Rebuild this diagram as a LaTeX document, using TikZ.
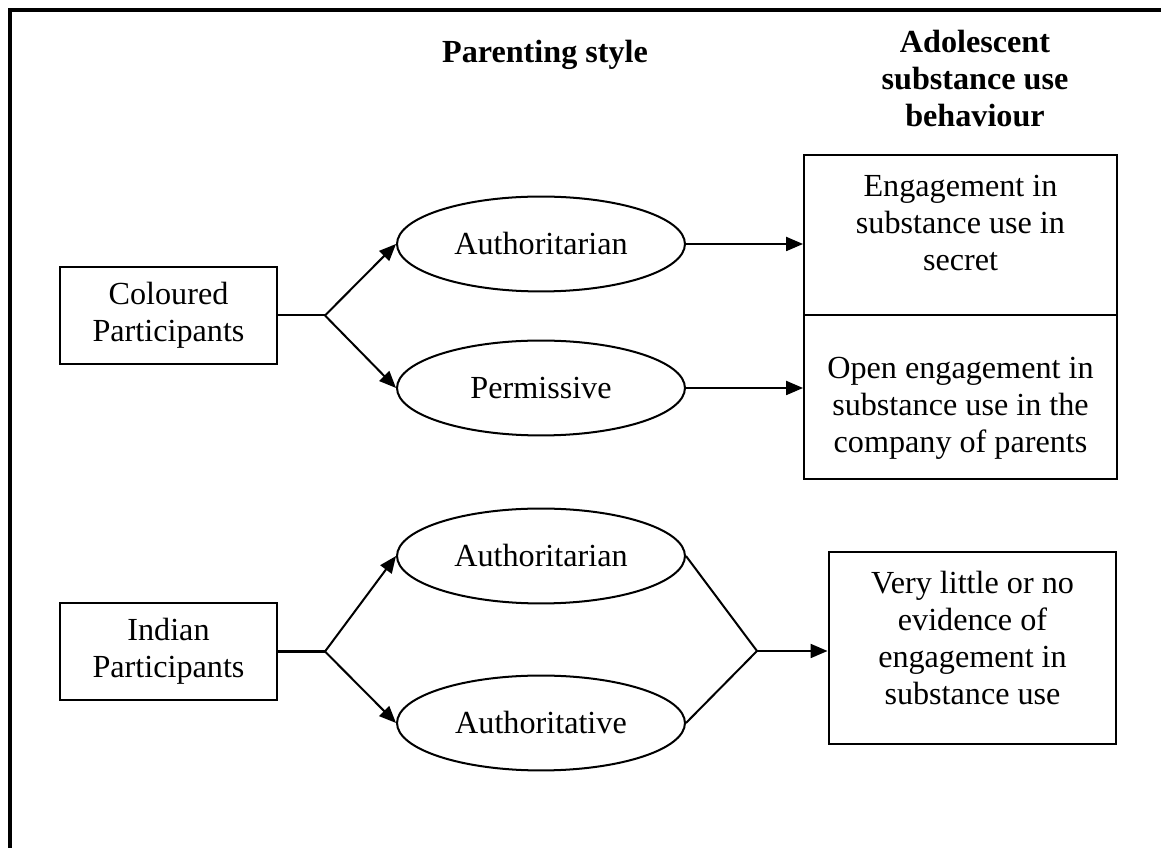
\documentclass[tikz,border=0pt]{standalone}
\usepackage{fontspec}
\setmainfont{Liberation Serif}
\usetikzlibrary{shapes.geometric,arrows.meta}
\begin{document}
\begin{tikzpicture}[x=0.373pt,y=-0.373pt,line width=0.75pt,
 font=\fontsize{12pt}{13.8pt}\selectfont,
 grp/.style={draw,rectangle,minimum width=81pt,minimum height=36.2pt,align=center,inner sep=0pt},
 pstyle/.style={draw,ellipse,minimum width=107.4pt,minimum height=35.4pt,inner sep=0pt},
 resbox/.style={draw,rectangle,minimum width=116.7pt,inner sep=0pt},
 arr/.style={-{Triangle[length=6.3pt,width=5.2pt]}},
 head/.style={font=\fontsize{12pt}{13.8pt}\selectfont\bfseries,align=center}]
\useasboundingbox (0,0) rectangle (1161,848);
\draw[line width=1.5pt] (10,848) -- (10,10) -- (1161,10);
\node[head] (pstyle) at (545,55) {Parenting style};
\node[head] (behav) at (975,79) {Adolescent\\substance use\\behaviour};
\node[grp] (col) at (168.5,315.5) {Coloured\\Participants};
\node[grp] (ind) at (168.5,651.5) {Indian\\Participants};
\coordinate (csplit) at (325,315.5);
\coordinate (isplit) at (325,651.5);
\coordinate (ijoin) at (757,651);
\node[pstyle] (auth1) at (541,244) {Authoritarian};
\node[pstyle] (perm) at (541,388) {Permissive};
\node[pstyle] (auth2) at (541,556) {Authoritarian};
\node[pstyle] (authv) at (541,723) {Authoritative};
\node[resbox,minimum height=59.7pt] (secret) at (960.5,235) {};
\node[resbox,minimum height=61.2pt] (open) at (960.5,397) {};
\node[resbox,minimum width=107.4pt,minimum height=71.6pt] (little) at (972.5,648) {};
\node[align=center] (secrett) at (960.5,223) {Engagement in\\substance use in\\secret};
\node[align=center] (opent) at (960.5,408) {Open engagement in\\substance use in the\\company of parents};
\node[align=center] (littlet) at (972.5,638) {Very little or no\\evidence of\\engagement in\\substance use};
\draw (col.east) -- (csplit); \draw[arr] (csplit) -- (auth1.west);
\draw[arr] (csplit) -- (perm.west);
\draw (ind.east) -- (isplit); \draw[arr] (isplit) -- (auth2.west);
\draw[arr] (isplit) -- (authv.west);
\draw[arr] (auth1.east) -- (auth1.east -| secret.west);
\draw[arr] (perm.east) -- (perm.east -| open.west);
\draw (auth2.east) -- (ijoin) -- (authv.east);
\draw[arr] (ijoin) -- (ijoin -| little.west);
\end{tikzpicture}
\end{document}
